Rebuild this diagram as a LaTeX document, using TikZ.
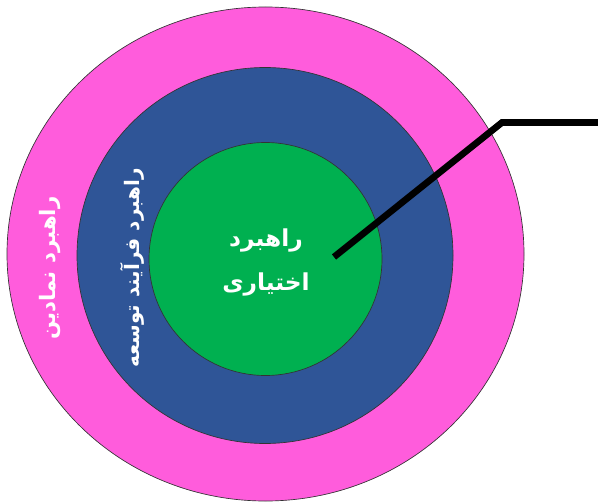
\documentclass[tikz,border=0pt]{standalone}
\usepackage{fontspec}
\TeXXeTstate=1
\newfontfamily\arabicfont[Script=Arabic]{DejaVu Sans}
\definecolor{ringpink}{HTML}{FF5CDC}
\definecolor{ringblue}{HTML}{2F5597}
\definecolor{ringgreen}{HTML}{00B050}
\tikzset{
  ring/.style={draw=black!80, line width=0.5pt},
  ringtext/.style={text=white, font=\arabicfont\bfseries\fontsize{16pt}{19pt}\selectfont, inner sep=0pt},
  coretext/.style={text=white, font=\arabicfont\bfseries\fontsize{17.5pt}{33pt}\selectfont, align=center, inner sep=0pt},
  pointer/.style={draw=black, line width=5pt, line join=miter}
}
\begin{document}
\begin{tikzpicture}[x=0.75pt,y=-0.75pt]
\useasboundingbox (0,0) rectangle (598,502);
\fill[ringpink] (265.5,254) ellipse [x radius=193.875pt, y radius=185.25pt];
\draw[ring] (265.5,254) ellipse [x radius=193.875pt, y radius=185.25pt];
\fill[ringblue] (265,255.5) circle [radius=141pt];
\draw[ring] (265,255.5) circle [radius=141pt];
\fill[ringgreen] (265.5,259) circle [radius=87.375pt];
\draw[ring] (265.5,259) circle [radius=87.375pt];
\node[ringtext, rotate=90] (outer) at (50,268) {\beginR راهبرد نمادین\endR};
\node[ringtext, rotate=90, font=\arabicfont\bfseries\fontsize{15pt}{18pt}\selectfont] (middle) at (132,268) {\beginR راهبرد فرآیند توسعه\endR};
\node[coretext] (core) at (266,262) {\beginR راهبرد\endR\\\beginR اختیاری\endR};
\coordinate (tip) at (334,257);
\coordinate (bend) at (502,122.5);
\coordinate (free) at (598,122.5);
\draw[pointer] (tip) -- (bend) -- (free);
\end{tikzpicture}
\end{document}
